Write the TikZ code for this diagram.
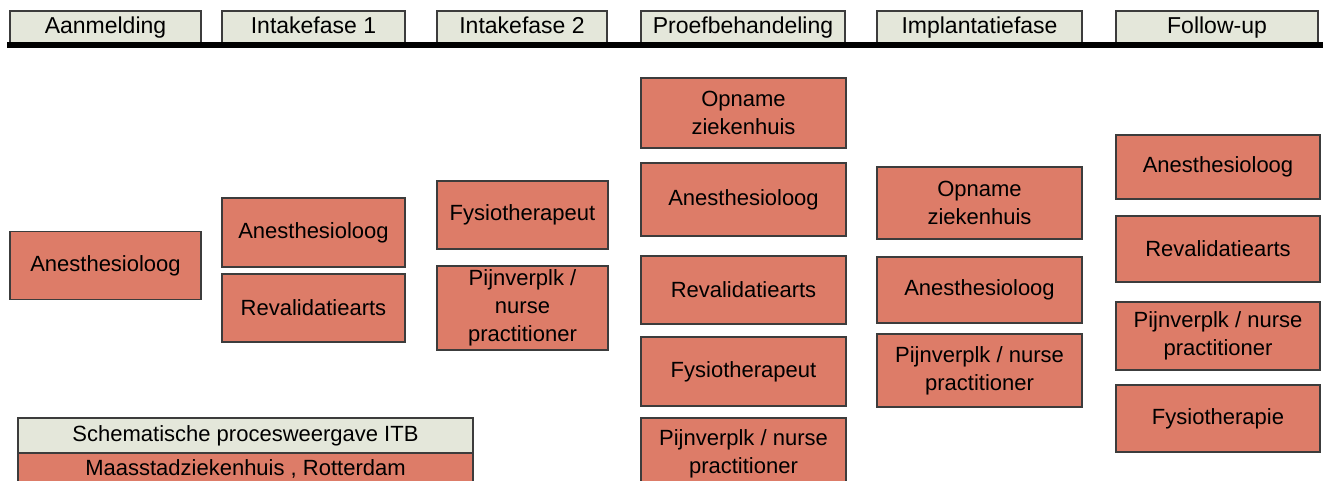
\documentclass[tikz,border=0pt]{standalone}
\usepackage{fontspec}
\setmainfont{Liberation Sans}
\definecolor{tabgrey}{RGB}{228,231,218}
\definecolor{salmon}{RGB}{221,124,104}
\definecolor{rim}{RGB}{60,60,60}
\tikzset{
	phase/.style={draw=rim, fill=tabgrey, line width=1.2pt, inner sep=0pt, text height=16.5pt, text depth=4.8pt, minimum height=34pt, font=\fontsize{23}{28}\selectfont},
	task/.style={draw=rim, fill=salmon, line width=1.2pt, inner sep=0pt, align=center, font=\fontsize{22}{28}\selectfont},
}
\begin{document}
\begin{tikzpicture}[x=1pt, y=-1pt]
		\useasboundingbox (0,0) rectangle (1323,481);
		\clip (0,0) rectangle (1323,481);
		\node[phase, minimum width=191pt] (aanmelding) at (105.5,28) {Aanmelding};
		\node[phase, minimum width=183pt] (intake1) at (313.5,28) {Intakefase 1};
		\node[phase, minimum width=170pt] (intake2) at (522,28) {Intakefase 2};
		\node[phase, minimum width=204pt] (proef) at (743,28) {Proefbehandeling};
		\node[phase, minimum width=205pt] (implant) at (979.5,28) {Implantatiefase};
		\node[phase, minimum width=202pt] (follow) at (1217,28) {Follow-up};
		\draw[line width=6pt] (7,45.5) to (1330,45.5);
		\node[task, minimum width=191pt, minimum height=68pt] (anes1) at (105.5,265.5) {Anesthesioloog};
		\node[task, minimum width=183pt, minimum height=69pt] (anes2) at (313.5,232.5) {Anesthesioloog};
		\node[task, minimum width=183pt, minimum height=68pt] (reva2) at (313.5,308) {Revalidatiearts};
		\node[task, minimum width=171pt, minimum height=68pt] (fysio3) at (522.5,215) {Fysiotherapeut};
		\node[task, minimum width=171pt, minimum height=84pt] (pijn3) at (522.5,308) {Pijnverplk /\\nurse\\practitioner};
		\node[task, minimum width=205pt, minimum height=70pt] (opname4) at (743.5,113) {Opname\\ziekenhuis};
		\node[task, minimum width=205pt, minimum height=73pt] (anes4) at (743.5,199.5) {Anesthesioloog};
		\node[task, minimum width=205pt, minimum height=68pt] (reva4) at (743.5,290) {Revalidatiearts};
		\node[task, minimum width=205pt, minimum height=69pt] (fysio4) at (743.5,371.5) {Fysiotherapeut};
		\node[task, minimum width=205pt, minimum height=72pt] (pijn4) at (743.5,454) {Pijnverplk / nurse\\practitioner};
		\node[task, minimum width=205pt, minimum height=72pt] (opname5) at (979.5,203) {Opname\\ziekenhuis};
		\node[task, minimum width=205pt, minimum height=66pt] (anes5) at (979.5,290) {Anesthesioloog};
		\node[task, minimum width=205pt, minimum height=73pt] (pijn5) at (979.5,370.5) {Pijnverplk / nurse\\practitioner};
		\node[task, minimum width=204pt, minimum height=64pt] (anes6) at (1218,167) {Anesthesioloog};
		\node[task, minimum width=204pt, minimum height=66pt] (reva6) at (1218,249) {Revalidatiearts};
		\node[task, minimum width=204pt, minimum height=68pt] (pijn6) at (1218,336) {Pijnverplk / nurse\\practitioner};
		\node[task, minimum width=204pt, minimum height=67pt] (fysio6) at (1218,418.5) {Fysiotherapie};
		\node[task, fill=tabgrey, minimum width=455pt, minimum height=35pt] (legend) at (245.5,435.5) {Schematische procesweergave ITB};
		\node[task, minimum width=455pt, minimum height=32pt] (hospital) at (245.5,469) {Maasstadziekenhuis , Rotterdam};
	\end{tikzpicture}
\end{document}
